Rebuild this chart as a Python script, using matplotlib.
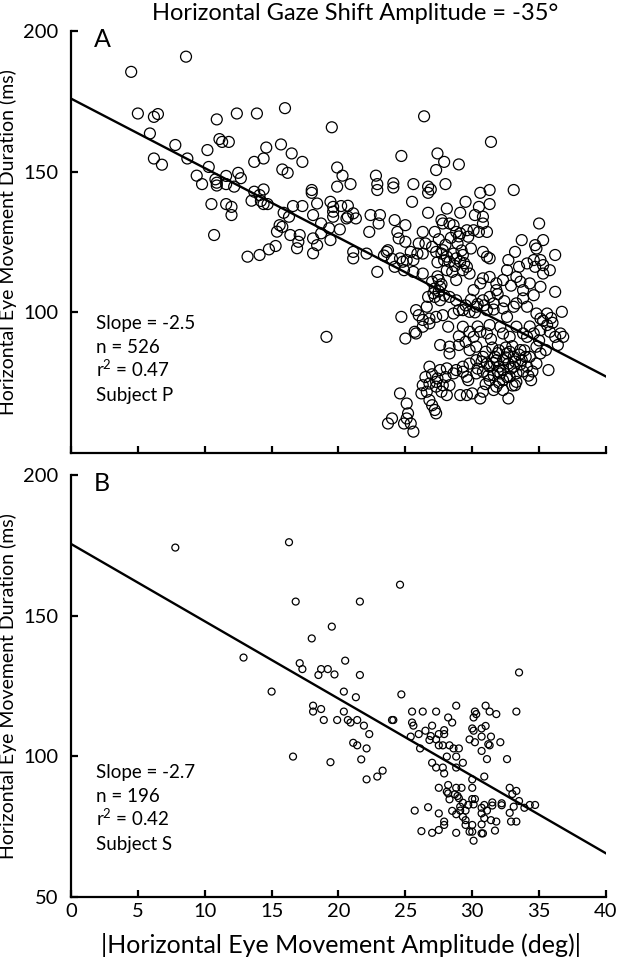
"""
Eye movement duration vs amplitude for a -35 deg horizontal gaze shift.
Two subjects (P, S), each with a linear fit.
"""

import numpy as np
import matplotlib
matplotlib.use("Agg")
import matplotlib.pyplot as plt

plt.rcParams.update({
    "font.family": ["Lato", "DejaVu Sans"],
    "font.size": 14,
    "mathtext.default": "regular",
    "axes.linewidth": 1.6,
    "xtick.direction": "in",
    "ytick.direction": "in",
    "xtick.major.width": 1.6,
    "ytick.major.width": 1.6,
    "xtick.major.size": 5,
    "ytick.major.size": 5,
})

# ---- Subject P (panel A) ----
a_amp = [
    4.5, 8.6, 5.0, 6.2, 6.5, 10.9, 12.4, 13.9, 16.0, 19.5, 5.9, 7.8, 10.2, 11.1, 11.3,
    11.8, 14.6, 15.7, 16.5, 17.3, 13.7, 14.4, 6.2, 6.8, 8.7, 10.3, 9.4, 9.8, 10.8, 10.9,
    10.9, 11.6, 11.6, 12.2, 12.5, 12.7, 15.8, 16.2, 19.9, 20.3, 19.9, 20.9, 10.5, 11.6, 12.0,
    12.0, 10.7, 13.7, 14.1, 14.4, 13.5, 14.2, 14.4, 14.7, 15.9, 16.3, 15.6, 15.8, 15.4, 16.6,
    17.3, 18.0, 18.0, 18.4, 18.1, 18.7, 19.3, 19.4, 19.6, 19.6, 19.6, 20.2, 20.6, 20.7, 20.7,
    21.1, 21.3, 20.1, 19.4, 16.4, 17.1, 17.0, 16.9, 18.1, 18.4, 18.1, 18.7, 15.3, 14.8, 14.1,
    13.2, 21.1, 21.1,
    26.4, 31.4, 24.7, 27.4, 27.9, 29.0, 27.3, 22.8, 22.9, 22.9, 24.1, 24.1, 25.6, 26.7, 26.9,
    26.7, 28.0, 30.6, 31.3, 33.1,
    22.4, 23.1, 23.0, 22.3, 22.1, 19.1,
    25.5, 26.7, 28.1, 27.7, 28.3, 29.1, 29.5, 30.5, 31.3, 30.2, 30.8, 24.2, 25.0,
    24.4, 24.5, 25.0, 26.3, 26.0, 26.5, 27.2, 27.8, 28.6, 28.8, 29.1, 29.6, 29.7, 30.1, 30.5,
    30.8, 31.1, 35.0, 33.7, 34.7, 34.8, 35.3,
    23.6, 23.7, 24.6, 24.8, 25.1, 25.6, 25.4, 25.9, 26.3, 27.0, 27.3, 27.7, 27.8, 28.1, 28.3,
    28.6, 28.8, 29.1, 29.3, 29.6, 29.9, 30.8, 31.1, 31.3, 32.7, 33.2, 33.5, 34.1, 34.6, 34.7,
    35.1, 35.3, 36.2, 24.2,
    22.9, 24.9, 25.6, 26.3, 27.0, 27.5, 27.6, 27.2, 28.1, 28.5, 28.8, 29.3, 29.8, 30.1, 30.6,
    30.8, 31.3, 31.8, 32.3, 31.8, 32.6, 33.3, 33.6, 33.8, 34.3, 34.6, 35.1, 35.3, 35.8, 36.2,
    26.7, 27.2, 27.6, 28.3, 28.8, 29.0, 28.6, 29.3, 29.8, 30.3, 30.8, 31.3, 31.1, 31.6, 32.3,
    32.6, 33.1, 33.3, 34.1, 34.8, 35.1, 35.6, 36.7, 26.0, 26.3, 26.8, 27.3, 27.8, 25.8, 26.6,
    24.7,
    25.0, 25.7, 25.8, 26.3, 26.8, 28.2, 29.3, 29.8, 30.1, 30.6, 31.1, 31.3, 32.1, 32.3, 32.8,
    33.3, 33.8, 34.1, 34.6, 35.1, 35.6, 35.8, 36.2, 36.6, 36.8, 36.4, 35.5, 34.8, 27.6, 28.3,
    28.3, 29.0, 30.3, 29.8,
    28.8, 29.3, 29.6, 29.7, 29.8, 30.3, 30.8, 31.1, 31.3, 31.7, 31.8, 32.0, 32.1, 32.3, 32.3,
    32.6, 32.7, 33.1, 33.1, 33.3, 33.6, 33.7, 34.0, 34.1, 34.3, 34.4, 34.8, 35.1, 35.7, 30.8,
    31.3, 31.6, 32.3, 32.8, 33.3, 26.8, 28.1, 26.8, 27.3, 27.8, 28.3, 26.3, 28.6, 29.3, 30.3,
    26.6, 27.3, 27.7, 28.1, 29.1, 29.6, 30.0, 30.6, 30.8, 31.6, 31.8, 32.3, 32.7, 33.2, 26.8,
    27.0, 27.2, 27.3, 26.2, 24.6, 25.1, 25.2,
    23.7, 24.0, 24.9, 25.4, 25.6, 25.1,
    # overlapping circles inside the dense clusters
    29.0, 28.9, 29.2, 28.7, 29.4, 28.4, 28.0, 27.5, 27.9, 27.4,
    27.4, 27.7, 27.5, 27.9, 27.1,
    29.9, 30.4, 29.5, 30.9, 30.2, 31.6,
    31.0, 31.5, 32.0, 32.5, 33.0, 32.8, 33.5, 31.9, 32.5, 33.2, 31.6, 32.9, 33.8, 31.9, 32.6,
    34.2, 31.2, 33.6, 30.4, 30.7, 34.5, 32.0, 33.0, 31.0, 33.9,
    27.0, 27.6, 27.4, 28.0, 26.5,
    35.3, 35.9, 34.3, 36.0, 35.0,
    23.4, 24.0,
    31.9, 32.9, 32.4, 33.8,
    29.0, 29.5, 30.4, 31.4,
]
a_dur = [
    185.5, 190.9, 170.7, 169.5, 170.5, 168.6, 170.7, 170.7, 172.6, 165.8, 163.6, 159.5, 157.7, 161.6, 160.6,
    160.6, 158.6, 159.7, 156.5, 153.5, 153.5, 154.7, 154.7, 152.5, 154.7, 151.7, 148.6, 145.6, 147.3, 146.1,
    145.1, 148.5, 145.6, 144.7, 149.6, 147.7, 150.8, 149.6, 151.5, 148.6, 144.7, 145.6, 138.5, 138.5, 137.5,
    134.6, 127.5, 142.9, 141.7, 143.7, 139.7, 139.6, 138.5, 138.5, 135.4, 134.0, 131.0, 130.4, 128.7, 137.8,
    137.8, 143.5, 142.5, 138.7, 134.6, 131.6, 129.9, 139.3, 137.5, 135.8, 134.0, 137.8, 133.4, 137.9, 134.0,
    135.2, 133.4, 129.5, 125.7, 127.5, 127.5, 125.1, 122.8, 126.3, 123.9, 121.0, 128.1, 123.6, 122.4, 120.4,
    119.8, 121.5, 119.2,
    169.7, 160.6, 155.6, 156.5, 153.5, 152.6, 150.6, 148.6, 145.6, 143.5, 145.9, 144.4, 145.6, 144.7, 143.7,
    142.5, 145.6, 142.5, 143.5, 143.5,
    134.6, 134.6, 131.6, 128.6, 120.9, 91.3,
    139.3, 135.4, 136.9, 132.8, 131.6, 135.4, 139.3, 137.5, 138.5, 134.6, 134.0, 132.8, 131.0,
    128.6, 126.3, 125.1, 128.6, 124.5, 124.5, 128.6, 131.6, 131.0, 128.6, 128.1, 129.2, 126.9, 129.2, 128.6,
    131.6, 128.6, 131.6, 125.7, 123.9, 122.7, 125.7,
    121.5, 122.1, 119.2, 118.0, 118.6, 118.6, 121.5, 120.9, 120.9, 123.3, 121.5, 120.9, 122.1, 119.8, 118.0,
    120.9, 119.2, 118.0, 120.4, 116.2, 122.7, 121.5, 119.8, 119.2, 118.6, 121.5, 116.2, 117.4, 118.6, 116.2,
    118.6, 116.8, 120.4, 116.2,
    114.4, 115.0, 114.4, 113.8, 110.9, 111.5, 109.1, 108.5, 115.0, 114.4, 111.5, 115.0, 113.8, 107.9, 110.3,
    112.1, 112.6, 110.3, 111.5, 107.9, 115.0, 112.6, 110.9, 107.9, 110.3, 106.1, 109.1, 113.8, 115.0, 107.3,
    105.5, 105.5, 104.3, 105.5, 104.3, 100.8, 99.6, 100.8, 100.2, 102.0, 104.3, 105.5, 100.8, 103.2, 101.4,
    98.4, 102.0, 103.2, 102.0, 99.6, 97.8, 99.6, 100.2, 99.0, 97.3, 97.8, 98.4, 99.0, 100.8, 102.0,
    98.4,
    90.7, 93.1, 92.5, 94.9, 96.1, 94.9, 94.9, 93.1, 91.3, 93.1, 92.5, 95.5, 94.9, 92.5, 91.3,
    94.9, 92.5, 91.3, 92.5, 93.7, 95.5, 93.1, 91.3, 92.5, 91.3, 88.4, 86.6, 87.8, 88.4, 87.8,
    85.4, 88.4, 87.8, 86.6,
    79.5, 80.7, 77.1, 75.9, 81.8, 83.0, 84.2, 81.8, 80.7, 84.2, 83.0, 80.7, 78.3, 83.0, 79.5,
    85.4, 81.8, 84.2, 80.7, 78.3, 86.6, 83.0, 84.2, 80.7, 84.2, 75.9, 81.8, 85.4, 79.5, 78.9,
    75.9, 77.7, 75.9, 77.1, 75.3, 80.7, 80.1, 74.7, 75.3, 74.1, 74.1, 74.1, 78.3, 78.9, 78.3,
    71.8, 73.6, 71.8, 70.6, 70.6, 70.6, 71.2, 69.4, 71.8, 72.4, 73.6, 72.4, 69.4, 74.1, 68.8,
    67.0, 65.3, 64.1, 71.2, 71.2, 67.6, 64.1,
    60.5, 62.3, 60.5, 60.5, 57.6, 62.3,
    # overlapping circles inside the dense clusters
    127.0, 124.5, 122.0, 116.5, 117.5, 126.5, 124.0, 126.0, 118.5, 117.8,
    112.8, 110.0, 107.5, 106.0, 106.8,
    104.5, 103.0, 102.5, 102.5, 100.0, 101.0,
    86.0, 87.5, 86.5, 87.5, 88.0, 86.0, 85.0, 85.5, 84.0, 82.5, 82.0, 80.0, 79.0, 79.0, 77.0,
    77.5, 77.5, 81.5, 80.0, 82.5, 79.0, 75.0, 74.0, 74.5, 86.5,
    78.0, 79.5, 76.5, 77.0, 77.0,
    97.0, 98.0, 95.0, 96.3, 90.0,
    120.2, 119.0,
    106.5, 109.5, 104.0, 105.0,
    91.5, 89.5, 95.0, 90.5,
]

# ---- Subject S (panel B) ----
b_amp = [
    7.8, 16.3, 16.8, 19.5, 18.0, 12.9, 17.1, 17.3, 18.7, 19.2, 18.5, 19.7, 15.0, 18.1, 18.1,
    18.7, 18.9, 19.9, 16.6, 19.4, 21.6, 24.6,
    20.5, 21.6, 33.5, 20.4, 21.3, 24.7, 20.4, 20.7, 20.9, 21.4, 21.9, 22.3, 21.1, 21.4, 22.1,
    21.7, 23.3, 22.9, 22.1, 24.0, 24.1, 25.5, 26.3, 27.3, 28.8, 28.2, 28.5, 30.2, 30.3, 30.1,
    31.0, 31.3, 31.8, 33.3, 25.5, 25.6, 27.0, 26.5, 26.0, 25.4, 26.9, 27.9, 27.9, 27.5, 27.3,
    26.1, 26.8, 27.5, 27.8, 28.3, 28.6, 29.0, 28.1, 28.8, 29.3, 28.8, 27.0, 27.3, 27.8, 27.9,
    30.0, 30.1, 30.7, 31.0, 29.8, 30.2, 30.7, 31.4, 31.2, 31.3, 30.7, 31.1, 32.1, 32.6, 30.9,
    30.0, 30.0, 27.5, 28.2, 28.8, 29.2, 28.1, 28.2, 28.7, 28.9, 29.0, 28.3, 29.3, 29.1, 29.5,
    29.1, 29.3, 29.5, 29.7, 30.0, 30.2, 30.1, 30.9, 30.7, 31.1, 30.7, 30.9, 31.5, 31.5, 32.2,
    32.2, 32.8, 33.0, 33.3, 33.5, 33.1, 32.8, 32.9, 33.3, 33.9, 34.3, 34.7, 28.8, 27.9, 27.5,
    26.7, 25.7, 28.5, 26.2, 27.0, 27.5, 27.9, 28.8, 29.8, 30.0, 30.7, 30.8, 30.7, 30.0, 31.4,
    31.7, 31.8, 29.5, 30.1,
]
b_dur = [
    174.2, 176.1, 155.0, 146.1, 141.9, 135.1, 133.1, 131.0, 131.0, 131.0, 128.9, 129.1, 123.0, 118.0, 115.9,
    116.8, 112.9, 112.9, 99.9, 97.9, 155.0, 161.0,
    134.0, 128.9, 129.8, 123.0, 121.0, 122.0, 115.9, 112.9, 112.0, 112.9, 110.9, 107.9, 104.8, 103.9, 102.8,
    98.9, 94.9, 92.8, 91.8, 112.9, 112.9, 115.9, 115.9, 115.9, 118.0, 113.8, 112.0, 115.9, 115.0, 113.8,
    118.0, 115.9, 115.0, 115.9, 112.0, 110.9, 110.9, 109.1, 107.9, 107.0, 107.2, 109.3, 107.9, 107.9, 106.0,
    102.8, 105.8, 103.9, 103.9, 103.9, 102.8, 102.8, 99.9, 99.9, 97.7, 96.0, 97.7, 96.0, 96.0, 93.9,
    109.9, 109.1, 109.9, 110.8, 106.0, 105.0, 107.0, 107.0, 104.3, 103.9, 101.9, 99.0, 105.0, 99.0, 92.8,
    91.8, 88.8, 88.8, 89.8, 88.8, 88.8, 87.4, 86.8, 86.5, 85.9, 85.1, 84.7, 83.5, 82.1, 80.7,
    80.7, 78.5, 77.3, 82.7, 84.8, 84.8, 82.9, 82.7, 81.7, 80.7, 79.7, 78.0, 83.6, 82.5, 83.3,
    82.6, 88.8, 86.6, 87.7, 84.1, 82.1, 79.9, 76.8, 76.8, 81.7, 82.7, 82.7, 79.4, 76.8, 79.7,
    81.9, 80.7, 80.6, 73.4, 72.8, 73.8, 75.6, 72.8, 73.2, 73.2, 72.6, 72.6, 75.8, 75.6, 77.3,
    73.6, 76.8, 75.6, 70.0,
]

# linear fits as drawn (intercept, slope)
fit_a = (176.0, -2.47)
fit_b = (175.5, -2.75)

stats_a = ["Slope = -2.5", "n = 526", "r$^{2}$ = 0.47", "Subject P"]
stats_b = ["Slope = -2.7", "n = 196", "r$^{2}$ = 0.42", "Subject S"]


def style_axes(ax, yticks, xlabels):
    ax.spines["top"].set_visible(False)
    ax.spines["right"].set_visible(False)
    ax.set_xlim(0, 40)
    ax.set_ylim(50, 200)
    ax.set_xticks(np.arange(0, 41, 5))
    ax.set_yticks(yticks)
    if not xlabels:
        ax.set_xticklabels([])
    ax.tick_params(axis="both", labelsize=14.5)
    ax.tick_params(axis="y", pad=9)
    ax.tick_params(axis="x", pad=4)
    ax.set_ylabel("Horizontal Eye Movement Duration (ms)", fontsize=14)
    ax.yaxis.set_label_coords(-0.1, 0.5)


def panel(ax, amp, dur, fit, letter, stats, msize, stats_top):
    ax.scatter(amp, dur, s=msize, facecolors="none", edgecolors="black",
               linewidths=0.9, zorder=2)
    xs = np.array([0, 40])
    ax.plot(xs, fit[0] + fit[1] * xs, color="black", lw=1.7, zorder=3)
    ax.text(1.7, 201, letter, fontsize=18, va="top", ha="left")
    # one text per line so the superscript line keeps even spacing
    for i, line in enumerate(stats):
        ax.text(1.9, stats_top - 8.5 * i, line, fontsize=13.5, va="baseline", ha="left")


fig = plt.figure(figsize=(6.2, 9.59), dpi=100)
ax_a = fig.add_axes([0.1145, 0.5276, 0.8629, 0.44])
ax_b = fig.add_axes([0.1145, 0.0647, 0.8629, 0.44])

panel(ax_a, a_amp, a_dur, fit_a, "A", stats_a, 62, 94.0)
panel(ax_b, b_amp, b_dur, fit_b, "B", stats_b, 25, 92.2)

style_axes(ax_a, [100, 150, 200], xlabels=False)
style_axes(ax_b, [50, 100, 150, 200], xlabels=True)

ax_b.set_xlabel("|Horizontal Eye Movement Amplitude (deg)|", fontsize=18)
ax_b.xaxis.set_label_coords(0.505, -0.085)

fig.text(0.572, 0.986, "Horizontal Gaze Shift Amplitude = -35°", ha="center", va="center",
         fontsize=17)

fig.savefig("out.png", dpi=100)
